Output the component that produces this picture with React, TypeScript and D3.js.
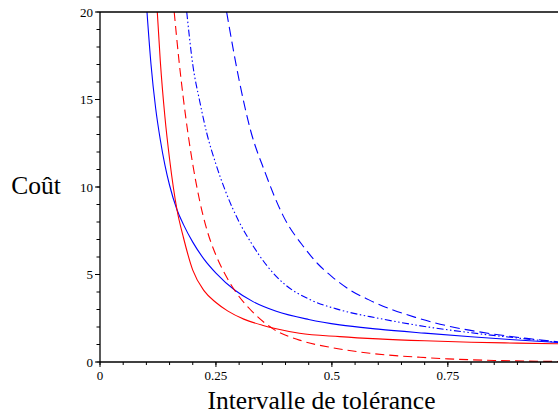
import React from "react";
import * as d3 from "d3";

const xTicks = [0, 0.25, 0.5, 0.75];
const xTickLabels = ["0", "0.25", "0.5", "0.75"];
const yTicks = [0, 5, 10, 15, 20];
const yTickLabels = ["0", "5", "10", "15", "20"];

const blueSolid: [number, number][] = [
  [0.1013, 20], [0.11, 17.0], [0.12, 14.5], [0.13, 12.7], [0.14, 11.25],
  [0.15, 10.1], [0.166, 8.7], [0.18, 7.85], [0.2, 6.85], [0.225, 5.85],
  [0.25, 5.08], [0.291, 4.1], [0.33, 3.45], [0.38, 2.9], [0.45, 2.43],
  [0.517, 2.12], [0.6, 1.88], [0.7, 1.65], [0.8, 1.44], [0.9, 1.26], [0.988, 1.11],
];
const redSolid: [number, number][] = [
  [0.1235, 20], [0.13, 17.2], [0.14, 14.0], [0.15, 11.6], [0.166, 8.7],
  [0.18, 7.1], [0.2, 5.25], [0.225, 4.05], [0.25, 3.4], [0.275, 2.92],
  [0.31, 2.45], [0.35, 2.1], [0.38, 1.9], [0.43, 1.64], [0.517, 1.45],
  [0.6, 1.32], [0.7, 1.21], [0.8, 1.13], [0.9, 1.08], [0.988, 1.04],
];
const redDashed: [number, number][] = [
  [0.16, 20], [0.17, 17.3], [0.18, 15.0], [0.19, 13.0], [0.2, 11.3],
  [0.215, 9.2], [0.23, 7.6], [0.25, 6.1], [0.27, 5.0], [0.291, 4.07],
  [0.324, 3.0], [0.374, 1.88], [0.43, 1.25], [0.5, 0.82], [0.582, 0.5],
  [0.69, 0.27], [0.75, 0.18], [0.85, 0.09], [0.988, 0.03],
];
const blueDashDot: [number, number][] = [
  [0.187, 20], [0.2, 17.0], [0.215, 14.9], [0.23, 13.1], [0.25, 11.3],
  [0.27, 9.8], [0.3, 8.0], [0.325, 6.85], [0.36, 5.5], [0.4, 4.4],
  [0.45, 3.6], [0.517, 2.98], [0.6, 2.5], [0.7, 2.03], [0.8, 1.67],
  [0.9, 1.37], [0.988, 1.13],
];
const blueDashed: [number, number][] = [
  [0.273, 20], [0.3, 16.1], [0.325, 13.2], [0.355, 10.9], [0.395, 8.35],
  [0.44, 6.55], [0.47, 5.6], [0.5, 4.88], [0.54, 4.1], [0.58, 3.55],
  [0.68, 2.55], [0.76, 2.0], [0.84, 1.63], [0.92, 1.35], [0.988, 1.15],
];

const series = [
  { data: blueSolid, color: "#0000ff", dash: "none" },
  { data: redSolid, color: "#ff0000", dash: "none" },
  { data: redDashed, color: "#ff0000", dash: "9,5" },
  { data: blueDashDot, color: "#0000ff", dash: "7,2.5,1.5,2.5,1.5,2.5" },
  { data: blueDashed, color: "#0000ff", dash: "10,5" },
];

const W = 558;
const H = 416;
const left = 100;
const right = 558;
const top = 12;
const bottom = 362;

export default function App() {
  const x = d3.scaleLinear().domain([0, 0.9875]).range([left, right]);
  const y = d3.scaleLinear().domain([0, 20]).range([bottom, top]);
  const line = d3
    .line<[number, number]>()
    .x((d) => x(d[0]))
    .y((d) => y(d[1]))
    .curve(d3.curveMonotoneX);

  const xMinor = d3.range(0, 0.99, 0.05);
  const yMinor = d3.range(0, 20.01, 1);
  const font = "'Liberation Serif', 'Times New Roman', serif";

  return (
    <div style={{ position: "fixed", left: 0, top: 0 }}>
      <svg width={W} height={H} style={{ display: "block", background: "#fff" }}>
        <defs>
          <clipPath id="plot">
            <rect x={left} y={top} width={right - left} height={bottom - top} />
          </clipPath>
        </defs>
        <g clipPath="url(#plot)">
          {series.map((s, i) => (
            <path
              key={i}
              d={line(s.data) || ""}
              fill="none"
              stroke={s.color}
              strokeWidth={1.1}
              strokeDasharray={s.dash}
            />
          ))}
        </g>
        <line x1={left} x2={right} y1={top} y2={top} stroke="#000" strokeWidth={1.3} />
        <line x1={left} x2={right} y1={bottom} y2={bottom} stroke="#000" strokeWidth={1.3} />
        <line x1={left} x2={left} y1={top} y2={bottom} stroke="#000" strokeWidth={1.3} />
        {xMinor.map((t, i) => (
          <line key={"xm" + i} x1={x(t)} x2={x(t)} y1={bottom} y2={bottom + 3} stroke="#000" strokeWidth={1} />
        ))}
        {xTicks.map((t, i) => (
          <g key={"xt" + i}>
            <line x1={x(t)} x2={x(t)} y1={bottom} y2={bottom + 5} stroke="#000" strokeWidth={1} />
            <text x={x(t)} y={380} textAnchor="middle" fontFamily={font} fontSize={13} fill="#000">
              {xTickLabels[i]}
            </text>
          </g>
        ))}
        {yMinor.map((v, i) => (
          <line key={"ym" + i} x1={left - 3.5} x2={left} y1={y(v)} y2={y(v)} stroke="#000" strokeWidth={1} />
        ))}
        {yTicks.map((v, i) => (
          <g key={"yt" + i}>
            <line x1={left - 5} x2={left} y1={y(v)} y2={y(v)} stroke="#000" strokeWidth={1} />
            <text x={93} y={y(v) + 4.5} textAnchor="end" fontFamily={font} fontSize={13} fill="#000">
              {yTickLabels[i]}
            </text>
          </g>
        ))}
        <text x={321.5} y={409} textAnchor="middle" fontFamily={font} fontSize={25.5} fill="#000">
          Intervalle de tolérance
        </text>
        <text x={36} y={194} textAnchor="middle" fontFamily={font} fontSize={25.5} fill="#000">
          Coût
        </text>
      </svg>
    </div>
  );
}
